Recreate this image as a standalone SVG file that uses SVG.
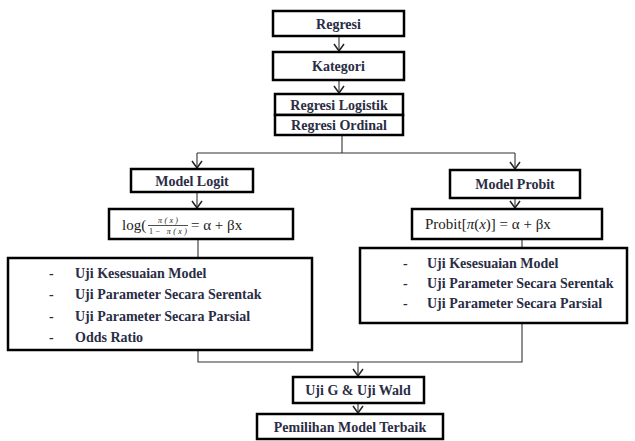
<svg xmlns="http://www.w3.org/2000/svg" width="635" height="441" viewBox="0 0 635 441">
<defs>
<style>
.box{fill:#fff;stroke:#000;stroke-width:2.5}
.t{font-family:"Liberation Serif","Times New Roman",serif;font-weight:bold;font-size:14px;fill:#2a2d45;text-anchor:middle}
.l{font-family:"Liberation Serif","Times New Roman",serif;font-weight:bold;font-size:14px;fill:#2a2d45}
.f{font-family:"Liberation Serif","Times New Roman",serif;font-size:15px;fill:#222}
.fr{font-family:"Liberation Serif","Times New Roman",serif;font-size:8px;fill:#222;text-anchor:middle}
.c{fill:none;stroke:#333;stroke-width:1.1}
</style>
<marker id="ah" markerWidth="12" markerHeight="12" refX="10" refY="6" orient="auto" markerUnits="userSpaceOnUse" viewBox="0 0 12 12">
<path d="M3,1 L10,6 L3,11" fill="none" stroke="#222" stroke-width="1.5"/>
</marker>
</defs>
<rect width="635" height="441" fill="#fff"/>
<g id="connectors">
<line class="c" x1="339" y1="37" x2="339" y2="51" marker-end="url(#ah)"/>
<line class="c" x1="339" y1="81" x2="339" y2="93" marker-end="url(#ah)"/>
<line class="c" x1="342" y1="136" x2="342" y2="153"/>
<line class="c" x1="197" y1="153" x2="515" y2="153"/>
<line class="c" x1="197" y1="153" x2="197" y2="168" marker-end="url(#ah)"/>
<line class="c" x1="515" y1="153" x2="515" y2="169" marker-end="url(#ah)"/>
<line class="c" x1="197" y1="193" x2="197" y2="208" marker-end="url(#ah)"/>
<line class="c" x1="515" y1="199" x2="515" y2="208" marker-end="url(#ah)"/>
<line class="c" x1="198" y1="240" x2="198" y2="257"/>
<line class="c" x1="522" y1="240" x2="522" y2="247"/>
<polyline class="c" points="198,351 198,362 522,362 522,324"/>
<line class="c" x1="358" y1="362" x2="358" y2="376" marker-end="url(#ah)"/>
<line class="c" x1="358" y1="404" x2="358" y2="413" marker-end="url(#ah)"/>
</g>
<g id="regresi"><rect class="box" x="273" y="11" width="131" height="25"/><text class="t" x="338.5" y="28.5">Regresi</text></g>
<g id="kategori"><rect class="box" x="273" y="52" width="131" height="28"/><text class="t" x="338.5" y="71">Kategori</text></g>
<g id="logistik"><rect class="box" x="275" y="94" width="128" height="21"/><text class="t" x="339" y="109.5">Regresi Logistik</text></g>
<g id="ordinal"><rect class="box" x="275" y="115" width="128" height="20"/><text class="t" x="339" y="130">Regresi Ordinal</text></g>
<g id="model-logit"><rect class="box" x="131" y="169" width="122" height="23"/><text class="t" x="192" y="185.5">Model Logit</text></g>
<g id="model-probit"><rect class="box" x="450" y="170" width="130" height="28"/><text class="t" x="515" y="189">Model Probit</text></g>
<g id="formula-logit"><rect class="box" x="109" y="209" width="184" height="30"/>
<text class="f" x="122" y="230">log(</text>
<text class="fr" x="168" y="222.5" font-style="italic" textLength="20" lengthAdjust="spacing">π(x)</text>
<line x1="148" y1="225.5" x2="188" y2="225.5" stroke="#222" stroke-width="0.8"/>
<text class="fr" x="168" y="233.5" textLength="38" lengthAdjust="spacing">1− <tspan font-style="italic">π(x)</tspan></text>
<text class="f" x="191" y="230">= α  + βx</text>
</g>
<g id="formula-probit"><rect class="box" x="412" y="209" width="190" height="30"/>
<text class="f" x="425" y="229">Probit[<tspan font-style="italic">π</tspan>(<tspan font-style="italic">x</tspan>)] = α + βx</text>
</g>
<g id="list-logit"><rect class="box" x="8" y="258" width="304" height="92"/>
<text class="l" x="49" y="278">-</text><text class="l" x="75" y="278">Uji Kesesuaian Model</text>
<text class="l" x="49" y="299">-</text><text class="l" x="75" y="299">Uji Parameter Secara Serentak</text>
<text class="l" x="49" y="321">-</text><text class="l" x="75" y="321">Uji Parameter Secara Parsial</text>
<text class="l" x="49" y="342">-</text><text class="l" x="75" y="342">Odds Ratio</text>
</g>
<g id="list-probit"><rect class="box" x="360" y="248" width="267" height="75"/>
<text class="l" x="403" y="268">-</text><text class="l" x="427" y="268">Uji Kesesuaian Model</text>
<text class="l" x="403" y="288">-</text><text class="l" x="427" y="288">Uji Parameter Secara Serentak</text>
<text class="l" x="403" y="308">-</text><text class="l" x="427" y="308">Uji Parameter Secara Parsial</text>
</g>
<g id="uji-g"><rect class="box" x="293" y="377" width="131" height="26"/><text class="t" x="358" y="394.5">Uji G &amp; Uji Wald</text></g>
<g id="pemilihan"><rect class="box" x="257" y="414" width="186" height="25"/><text class="t" x="350" y="431.5">Pemilihan Model Terbaik</text></g>
</svg>
